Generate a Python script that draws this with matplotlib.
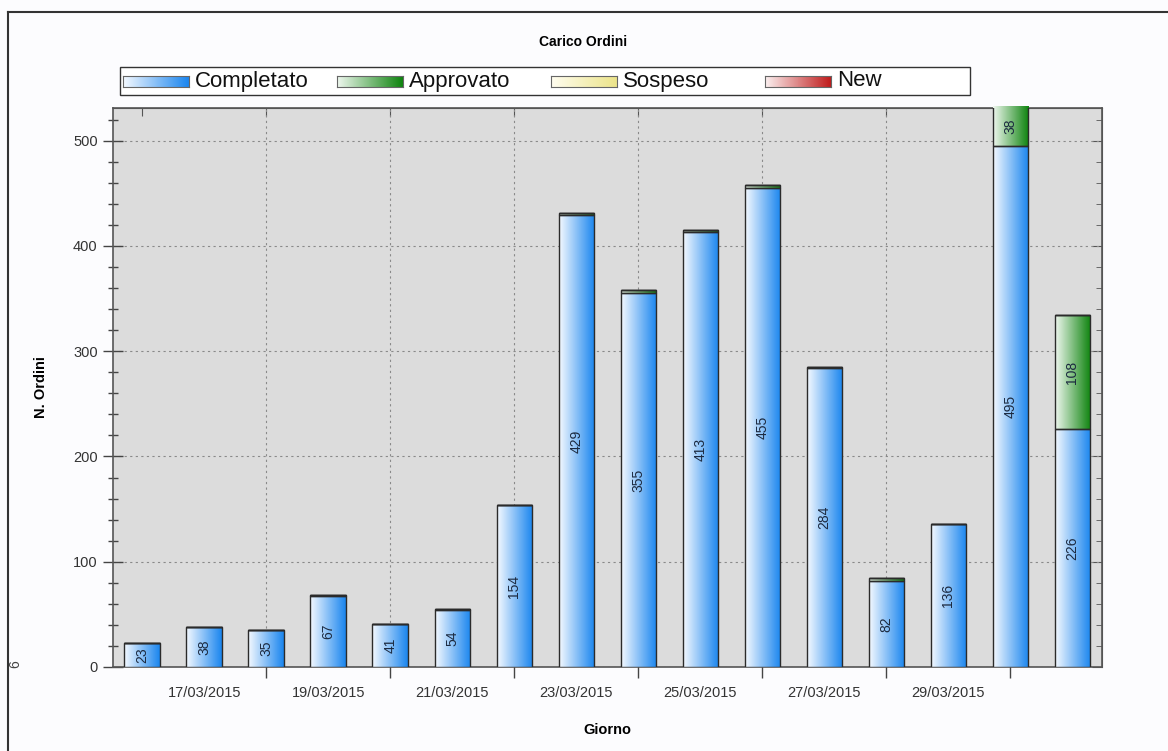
import numpy as np
import matplotlib.pyplot as plt
from matplotlib.colors import LinearSegmentedColormap
from matplotlib.patches import Rectangle
from matplotlib.ticker import FixedLocator, MultipleLocator, NullFormatter

# Dati: ordini per giorno (16/03/2015 - 31/03/2015)
giorni = ["16/03/2015", "17/03/2015", "18/03/2015", "19/03/2015", "20/03/2015",
          "21/03/2015", "22/03/2015", "23/03/2015", "24/03/2015", "25/03/2015",
          "26/03/2015", "27/03/2015", "28/03/2015", "29/03/2015", "30/03/2015",
          "31/03/2015"]
completato = [23, 38, 35, 67, 41, 54, 154, 429, 355, 413, 455, 284, 82, 136, 495, 226]
approvato = [0, 0, 0, 1, 0, 1, 0, 2, 3, 2, 3, 1, 3, 0, 38, 108]
sospeso = [0] * 16
new = [0] * 16

series = [("Completato", completato), ("Approvato", approvato),
          ("Sospeso", sospeso), ("New", new)]
gradients = {
    "Completato": ("#f4f9ff", "#1b86ef"),
    "Approvato": ("#eef7ee", "#0f840f"),
    "Sospeso": ("#fffdf0", "#ece48a"),
    "New": ("#fbf0f0", "#c01c1c"),
}

plt.rcParams['font.family'] = ['Liberation Sans', 'DejaVu Sans']

W, H = 1168, 751
fig = plt.figure(figsize=(W / 100, H / 100), dpi=100)
fig.patch.set_facecolor("#fcfcfe")
ax = fig.add_axes([113 / W, 1 - 667 / H, 989 / W, 559 / H])
ax.set_facecolor("#dcdcdc")

x = np.arange(len(giorni))
width = 0.57
bottom = np.zeros(len(giorni))
grad = np.linspace(0, 1, 64).reshape(1, -1)

for name, vals in series:
    vals = np.array(vals, dtype=float)
    cmap = LinearSegmentedColormap.from_list(name, gradients[name])
    bars = ax.bar(x, vals, width, bottom=bottom, facecolor="none",
                  edgecolor="#2b2b2b", linewidth=1.0, zorder=4)
    for rect, v in zip(bars, vals):
        if v <= 0:
            continue
        x0, y0 = rect.get_x(), rect.get_y()
        im = ax.imshow(grad, cmap=cmap, aspect="auto", zorder=3,
                       extent=[x0, x0 + rect.get_width(), y0, y0 + v])
        im.set_clip_path(rect)
    for xi, b, v in zip(x, bottom, vals):
        if (name == "Completato" and v > 0) or v >= 20:
            ax.text(xi, b + v / 2, str(int(v)), rotation=90, ha="center",
                    va="center", fontsize=10, color="#1c2a40", zorder=5)
    bottom += vals

ax.set_xlim(-0.47, 15.48)
ax.set_ylim(0, 531)

# assi e griglia
ax.xaxis.set_major_locator(FixedLocator(x[2:15:2]))
ax.xaxis.set_major_formatter(NullFormatter())
ax.xaxis.set_minor_locator(FixedLocator(x[1:14:2]))
ax.set_xticklabels([giorni[i] for i in x[1:14:2]], minor=True)
ax.tick_params(axis="x", which="major", direction="inout", length=16,
               width=1, color="#444444")
ax.tick_params(axis="x", which="minor", length=0, pad=14, labelsize=10.5,
               labelcolor="#333333")
top = ax.secondary_xaxis("top")
top.xaxis.set_major_locator(FixedLocator(x[0:15:2]))
top.tick_params(direction="in", length=6, color="#555555", labeltop=False)
top.spines["top"].set_color("#555555")

ax.yaxis.set_major_locator(MultipleLocator(100))
ax.yaxis.set_minor_locator(MultipleLocator(20))
ax.tick_params(axis="y", which="major", direction="inout", length=14,
               width=1, color="#444444", labelsize=10.5, labelcolor="#333333",
               pad=4)
ax.tick_params(axis="y", which="minor", direction="inout", length=7,
               width=1, color="#444444")
sec = ax.secondary_yaxis("right")
sec.yaxis.set_major_locator(MultipleLocator(100))
sec.yaxis.set_minor_locator(MultipleLocator(20))
sec.tick_params(which="major", direction="in", length=7, color="#555555",
                labelright=False)
sec.tick_params(which="minor", direction="in", length=4, color="#555555")
sec.spines["right"].set_color("#555555")

ax.grid(True, which="major", linestyle=(0, (2, 3)), color="#8a8a8a",
        linewidth=0.8, zorder=1)
ax.set_axisbelow(True)
for s in ax.spines.values():
    s.set_color("#555555")
    s.set_linewidth(1.2)

ax.set_xlabel("Giorno", fontsize=10.5, fontweight="bold", labelpad=16)
ax.set_ylabel("N. Ordini", fontsize=10.5, fontweight="bold", labelpad=18)
fig.text(0.4995, 1 - 42 / H, "Carico Ordini", ha="center", va="center",
         fontsize=10, fontweight="bold")
fig.text(15 / W, 1 - 664 / H, "6", rotation=90, ha="center",
         va="center", fontsize=10, color="#444444")

# legenda: riquadro con campioni sfumati a passo costante
fig.add_artist(Rectangle((120 / W, 1 - 95 / H), 850 / W, 28 / H,
                         transform=fig.transFigure, facecolor="white",
                         edgecolor="#333333", linewidth=1.0, zorder=-1))
for i, (name, _) in enumerate(series):
    px = 123 + 214 * i
    cmap = LinearSegmentedColormap.from_list(name, gradients[name])
    lax = fig.add_axes([px / W, 1 - 87 / H, 66 / W, 11 / H])
    lax.imshow(grad, cmap=cmap, aspect="auto")
    lax.set_xticks([])
    lax.set_yticks([])
    for s in lax.spines.values():
        s.set_color("#666666")
        s.set_linewidth(0.8)
    fig.text((px + 72) / W, 1 - 81 / H, name, ha="left", va="center",
             fontsize=16, color="#111111")

# bordo della figura
fig.add_artist(plt.Line2D([8 / W, 8 / W], [0, 1 - 12 / H],
                          color="#333333", linewidth=1.5))
fig.add_artist(plt.Line2D([8 / W, 1], [1 - 12 / H, 1 - 12 / H],
                          color="#333333", linewidth=1.5))

fig.savefig("out.png", dpi=100, facecolor=fig.get_facecolor())
